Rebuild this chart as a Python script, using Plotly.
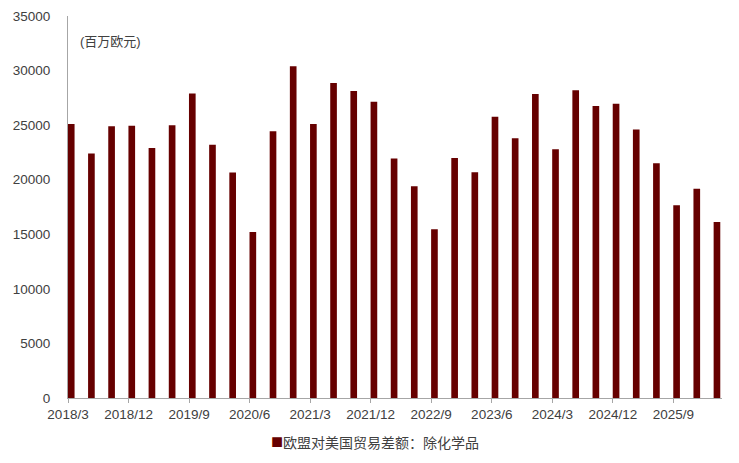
import plotly.graph_objects as go

# quarterly periods, 2018/3 .. 2026/3
periods = [f"{y}/{m}" for y in range(2018, 2027) for m in (3, 6, 9, 12)][:33]
values = [25100, 22400, 24900, 24950, 22900, 25000, 27900, 23200, 20650, 15200,
          24450, 30400, 25100, 28850, 28130, 27150, 21950, 19400, 15450, 22000,
          20680, 25780, 23800, 27850, 22780, 28200, 26750, 26950, 24600, 21500,
          17650, 19180, 16130]
series_name = "欧盟对美国贸易差额：除化学品"
unit_label = "(百万欧元)"

bar_color = "#660000"
xpos = list(range(len(periods)))
font_family = "Liberation Sans, Noto Sans CJK SC, Arial, sans-serif"

fig = go.Figure(go.Bar(
    x=xpos, y=values, name=series_name,
    marker=dict(color=bar_color, line=dict(width=0)),
    width=0.33, showlegend=False,
))

# legend drawn as text so the little square sits right next to the label
legend_text = (f"<span style='color:{bar_color};font-size:20px'>■</span>"
               f"{series_name}")

# page body adds an 8px offset, so the figure is 8px smaller and margins shifted
fig.update_layout(
    width=731, height=455,
    margin=dict(l=60, r=17, t=8, b=65, autoexpand=False),
    plot_bgcolor="white", paper_bgcolor="white",
    font=dict(family=font_family, size=13.5, color="#404040"),
    annotations=[
        dict(text=unit_label, x=0.015, y=0.932, xref="paper", yref="paper",
             xanchor="left", yanchor="middle", showarrow=False,
             font=dict(size=13, color="#404040")),
        dict(text=legend_text, x=0.47, y=-0.112, xref="paper", yref="paper",
             xanchor="center", yanchor="middle", showarrow=False,
             font=dict(size=14, color="#404040")),
    ],
)

fig.update_xaxes(
    range=[-0.16, 32.25],
    tickmode="array",
    tickvals=[i - 0.16 for i in xpos[::3]],
    ticktext=periods[::3],
    ticks="outside", ticklen=4, tickcolor="#a6a6a6",
    showline=True, linecolor="#a6a6a6", linewidth=1,
    showgrid=False, zeroline=False, automargin=False,
)
fig.update_yaxes(
    range=[0, 35000], dtick=5000, tickformat="d",
    showline=True, linecolor="#a6a6a6", linewidth=1,
    showgrid=False, zeroline=False, ticks="",
    ticklabelstandoff=14, automargin=False,
)

fig.write_html("out.html")
